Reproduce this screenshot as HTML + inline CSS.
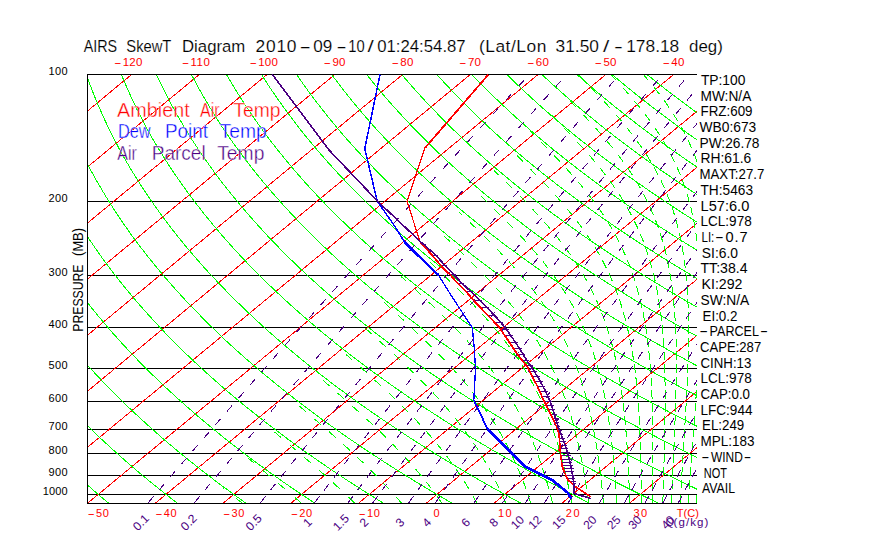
<!DOCTYPE html>
<html lang="en"><head><meta charset="utf-8"><title>AIRS SkewT Diagram</title>
<style>html,body{margin:0;padding:0;background:#fff}svg{display:block}</style></head>
<body>
<svg width="870" height="560" viewBox="0 0 870 560" font-family="&quot;Liberation Sans&quot;, sans-serif">
<rect width="870" height="560" fill="#fff"/>
<g fill="none" shape-rendering="crispEdges" stroke-width="1">
<path stroke="#000" stroke-width="1" d="M87.5 201.5H697M87.5 275.5H697M87.5 327.5H697M87.5 368.5H697M87.5 401.5H697M87.5 429.5H697M87.5 453.5H697M87.5 475.5H697M87.5 494.5H697"/>
<path stroke="#ff0000" d="M87.5 111L131.1 74.9M87.5 167L198.8 74.9M87.5 223.1L266.6 74.9M87.5 279.1L334.3 74.9M87.5 335.2L402.1 74.9M87.5 391.2L469.8 74.9M87.5 447.3L537.6 74.9M87.5 503.3L605.3 74.9M155.2 503.3L673.1 74.9M223 503.3L697 111.2M290.8 503.3L697 167.2M358.5 503.3L697 223.3M426.2 503.3L697 279.3M494 503.3L697 335.4M561.8 503.3L697 391.4M629.5 503.3L697 447.5"/>
<path stroke="#00ff00" d="M108.7 503.3L96.1 492.6L87.5 485M177.4 503.3L163.7 492.6L150.4 481.9L137.5 471.2L125.1 460.5L113 449.8L101.4 439.1L90.2 428.3L87.5 425.6M246.1 503.3L231.2 492.6L216.8 481.9L202.8 471.2L189.3 460.5L176.2 449.8L163.5 439.1L151.3 428.3L139.5 417.6L128.1 406.9L117.1 396.2L106.5 385.5L96.3 374.8L87.5 365.2M314.9 503.3L298.8 492.6L283.2 481.9L268.1 471.2L253.5 460.5L239.4 449.8L225.6 439.1L212.4 428.3L199.5 417.6L187.1 406.9L175.2 396.2L163.6 385.5L152.5 374.8L141.7 364.1L131.3 353.4L121.4 342.7L111.8 332L102.6 321.2L93.7 310.5L87.5 302.7M383.6 503.3L366.4 492.6L349.7 481.9L333.5 471.2L317.8 460.5L302.5 449.8L287.8 439.1L273.5 428.3L259.6 417.6L246.2 406.9L233.2 396.2L220.7 385.5L208.6 374.8L196.9 364.1L185.6 353.4L174.8 342.7L164.3 332L154.2 321.2L144.5 310.5L135.2 299.8L126.2 289.1L117.6 278.4L109.4 267.7L101.5 257L94 246.3L87.5 236.6M452.3 503.3L433.9 492.6L416.1 481.9L398.8 471.2L382 460.5L365.7 449.8L349.9 439.1L334.5 428.3L319.7 417.6L305.3 406.9L291.3 396.2L277.8 385.5L264.8 374.8L252.1 364.1L239.9 353.4L228.1 342.7L216.8 332L205.8 321.2L195.3 310.5L185.1 299.8L175.3 289.1L165.9 278.4L156.9 267.7L148.2 257L139.9 246.3L131.9 235.6L124.3 224.8L117.1 214.1L110.1 203.4L103.6 192.7L97.3 182L91.3 171.3L87.5 164M521 503.3L501.5 492.6L482.5 481.9L464.1 471.2L446.2 460.5L428.8 449.8L412 439.1L395.6 428.3L379.7 417.6L364.3 406.9L349.4 396.2L334.9 385.5L320.9 374.8L307.3 364.1L294.2 353.4L281.5 342.7L269.3 332L257.4 321.2L246 310.5L235 299.8L224.4 289.1L214.2 278.4L204.3 267.7L194.9 257L185.8 246.3L177.1 235.6L168.7 224.8L160.7 214.1L153.1 203.4L145.7 192.7L138.8 182L132.1 171.3L125.8 160.6L119.8 149.9L114.2 139.2L108.8 128.5L103.7 117.7L99 107L94.5 96.3L90.3 85.6L87.5 77.8M589.7 503.3L569 492.6L549 481.9L529.4 471.2L510.5 460.5L492 449.8L474.1 439.1L456.7 428.3L439.8 417.6L423.4 406.9L407.4 396.2L392 385.5L377.1 374.8L362.6 364.1L348.5 353.4L334.9 342.7L321.8 332L309.1 321.2L296.8 310.5L284.9 299.8L273.5 289.1L262.4 278.4L251.8 267.7L241.5 257L231.7 246.3L222.2 235.6L213.1 224.8L204.3 214.1L196 203.4L187.9 192.7L180.3 182L172.9 171.3L165.9 160.6L159.3 149.9L152.9 139.2L146.9 128.5L141.2 117.7L135.8 107L130.8 96.3L126 85.6L121.5 74.9M658.4 503.3L636.6 492.6L615.4 481.9L594.8 471.2L574.7 460.5L555.2 449.8L536.2 439.1L517.7 428.3L499.8 417.6L482.4 406.9L465.5 396.2L449.1 385.5L433.2 374.8L417.8 364.1L402.8 353.4L388.3 342.7L374.3 332L360.7 321.2L347.5 310.5L334.8 299.8L322.6 289.1L310.7 278.4L299.2 267.7L288.2 257L277.6 246.3L267.3 235.6L257.5 224.8L248 214.1L238.9 203.4L230.1 192.7L221.7 182L213.7 171.3L206.1 160.6L198.7 149.9L191.7 139.2L185.1 128.5L178.7 117.7L172.7 107L167 96.3L161.7 85.6L156.6 74.9M697 489.2L681.8 481.9L660.1 471.2L638.9 460.5L618.3 449.8L598.3 439.1L578.8 428.3L559.9 417.6L541.5 406.9L523.6 396.2L506.2 385.5L489.4 374.8L473 364.1L457.1 353.4L441.7 342.7L426.8 332L412.3 321.2L398.3 310.5L384.8 299.8L371.6 289.1L359 278.4L346.7 267.7L334.9 257L323.5 246.3L312.4 235.6L301.8 224.8L291.6 214.1L281.8 203.4L272.3 192.7L263.2 182L254.5 171.3L246.2 160.6L238.2 149.9L230.5 139.2L223.2 128.5L216.2 117.7L209.6 107L203.3 96.3L197.3 85.6L191.6 74.9M697 457.4L681.5 449.8L660.4 439.1L639.9 428.3L619.9 417.6L600.5 406.9L581.7 396.2L563.3 385.5L545.5 374.8L528.2 364.1L511.4 353.4L495.1 342.7L479.3 332L463.9 321.2L449.1 310.5L434.7 299.8L420.7 289.1L407.2 278.4L394.2 267.7L381.5 257L369.3 246.3L357.6 235.6L346.2 224.8L335.2 214.1L324.7 203.4L314.5 192.7L304.7 182L295.3 171.3L286.3 160.6L277.6 149.9L269.3 139.2L261.4 128.5L253.8 117.7L246.5 107L239.6 96.3L233 85.6L226.7 74.9M697 426.3L680 417.6L659.6 406.9L639.7 396.2L620.4 385.5L601.7 374.8L583.4 364.1L565.7 353.4L548.5 342.7L531.8 332L515.6 321.2L499.8 310.5L484.6 299.8L469.8 289.1L455.5 278.4L441.6 267.7L428.2 257L415.2 246.3L402.7 235.6L390.6 224.8L378.9 214.1L367.6 203.4L356.7 192.7L346.2 182L336.1 171.3L326.4 160.6L317.1 149.9L308.1 139.2L299.5 128.5L291.3 117.7L283.4 107L275.8 96.3L268.6 85.6L261.8 74.9M697 395.8L677.5 385.5L657.8 374.8L638.6 364.1L620 353.4L601.9 342.7L584.3 332L567.2 321.2L550.6 310.5L534.5 299.8L518.9 289.1L503.8 278.4L489.1 267.7L474.9 257L461.1 246.3L447.8 235.6L434.9 224.8L422.5 214.1L410.5 203.4L398.9 192.7L387.7 182L376.9 171.3L366.5 160.6L356.5 149.9L346.9 139.2L337.6 128.5L328.8 117.7L320.3 107L312.1 96.3L304.3 85.6L296.8 74.9M697 365.8L693.8 364.1L674.3 353.4L655.3 342.7L636.8 332L618.8 321.2L601.4 310.5L584.4 299.8L568 289.1L552 278.4L536.5 267.7L521.6 257L507 246.3L492.9 235.6L479.3 224.8L466.1 214.1L453.4 203.4L441.1 192.7L429.2 182L417.7 171.3L406.6 160.6L396 149.9L385.7 139.2L375.8 128.5L366.3 117.7L357.1 107L348.4 96.3L340 85.6L331.9 74.9M697 336.2L689.3 332L670.4 321.2L652.1 310.5L634.3 299.8L617.1 289.1L600.3 278.4L584 267.7L568.2 257L552.9 246.3L538.1 235.6L523.7 224.8L509.8 214.1L496.3 203.4L483.3 192.7L470.7 182L458.5 171.3L446.7 160.6L435.4 149.9L424.5 139.2L413.9 128.5L403.8 117.7L394 107L384.6 96.3L375.6 85.6L367 74.9M697 307.1L684.2 299.8L666.1 289.1L648.6 278.4L631.5 267.7L614.9 257L598.8 246.3L583.2 235.6L568.1 224.8L553.4 214.1L539.2 203.4L525.5 192.7L512.2 182L499.3 171.3L486.9 160.6L474.9 149.9L463.3 139.2L452.1 128.5L441.3 117.7L430.9 107L420.9 96.3L411.3 85.6L402 74.9M697 278.5L696.8 278.4L678.9 267.7L661.6 257L644.7 246.3L628.3 235.6L612.4 224.8L597 214.1L582.1 203.4L567.7 192.7L553.7 182L540.1 171.3L527 160.6L514.3 149.9L502 139.2L490.2 128.5L478.8 117.7L467.8 107L457.2 96.3L447 85.6L437.1 74.9M697 250.2L690.6 246.3L673.5 235.6L656.8 224.8L640.7 214.1L625 203.4L609.8 192.7L595.1 182L580.9 171.3L567.1 160.6L553.7 149.9L540.8 139.2L528.4 128.5L516.3 117.7L504.7 107L493.4 96.3L482.6 85.6L472.2 74.9M697 222.2L684.3 214.1L667.9 203.4L652 192.7L636.6 182L621.7 171.3L607.2 160.6L593.2 149.9L579.6 139.2L566.5 128.5L553.8 117.7L541.5 107L529.7 96.3L518.3 85.6L507.3 74.9M697 194.5L694.2 192.7L678.1 182L662.5 171.3L647.3 160.6L632.6 149.9L618.4 139.2L604.6 128.5L591.3 117.7L578.4 107L566 96.3L553.9 85.6L542.3 74.9M697 167L687.4 160.6L672.1 149.9L657.2 139.2L642.8 128.5L628.8 117.7L615.3 107L602.2 96.3L589.6 85.6L577.4 74.9M697 139.9L696 139.2L680.9 128.5L666.3 117.7L652.2 107L638.5 96.3L625.3 85.6L612.5 74.9M697 112.8L689.1 107L674.8 96.3L660.9 85.6L647.5 74.9"/>
<path stroke="#00ff00" d="M242.3 503.3L235.6 497.9M224.4 488.6L223.1 487.6M301.6 503.3L295.1 497.7M284.5 488.6L277.9 483.1M269.4 475.9L262.8 470.4M254.1 463.1L247.5 457.6M354.9 503.3L348.7 497.3M339.5 488.6L333.2 482.8M325.5 475.9L319.1 470.2M311 463.1L304.5 457.5M296.1 450.3L289.6 444.8M281 437.5L274.5 431.9M401.7 503.3L396 496.8M388.6 488.6L382.7 482.4M376.5 475.9L370.4 469.8M363.5 463.1L357.3 457.2M349.9 450.3L343.5 444.5M335.6 437.5L329.2 431.8M321 424.7L314.5 419M306.1 411.8L299.6 406.2M442 503.3L437 496.3M431.3 488.6L426.1 481.8M421.3 475.9L415.7 469.3M410.3 463.1L404.6 456.7M398.5 450.3L392.6 444.2M385.9 437.5L379.8 431.5M372.6 424.7L366.3 418.8M358.6 411.8L352.2 406M344.2 398.9L337.7 393.2M329.5 385.9L323 380.3M477 503.3L472.9 495.8M468.7 488.6L464.2 481.3M460.7 475.9L455.8 468.8M451.8 463.1L446.7 456.2M442.2 450.3L436.8 443.6M431.6 437.5L425.9 431M420.2 424.7L414.3 418.4M407.9 411.8L401.8 405.7M394.8 398.9L388.6 392.9M381.1 385.9L374.7 380.1M366.9 373L360.5 367.2M352.3 360L345.9 354.3M505.8 503.3L502.4 495.4M499.3 488.6L495.5 480.9M493 475.9L488.9 468.3M486 463.1L481.6 455.7M478.3 450.3L473.6 443.1M469.7 437.5L464.7 430.5M460.3 424.7L455 417.9M449.9 411.8L444.3 405.2M438.7 398.9L432.9 392.5M426.6 385.9L420.5 379.8M413.7 373L407.5 367M400.1 360L393.8 354.1M386 347L379.6 341.2M371.6 333.9L365.2 328.2M530.9 503.3L528.2 495.2M525.9 488.6L522.9 480.6M521 475.9L517.7 467.9M515.6 463.1L512 455.3M509.6 450.3L505.6 442.7M502.8 437.5L498.6 430M495.3 424.7L490.7 417.4M487 411.8L482.1 404.7M477.8 398.9L472.5 392.1M467.6 385.9L462.1 379.3M456.5 373L450.7 366.6M444.5 360L438.5 353.8M431.7 347L425.6 340.9M418.2 333.9L412 328M404.2 320.8L397.9 315M389.9 307.7L383.6 301.9M552.6 503.3L550.5 495M548.7 488.6L546.4 480.3M545 475.9L542.4 467.7M540.9 463.1L538 455M536.2 450.3L533 442.3M531 437.5L527.5 429.7M525.2 424.7L521.3 417M518.6 411.8L514.4 404.3M511.2 398.9L506.7 391.6M503 385.9L498.1 378.9M493.9 373L488.7 366.1M483.8 360L478.3 353.4M472.7 347L467 340.6M460.8 333.9L454.8 327.7M448 320.8L441.9 314.8M434.6 307.7L428.4 301.8M420.7 294.6L414.4 288.7M406.5 281.4L400.9 276.3M571.8 503.3L570.2 494.9M568.9 488.6L567.1 480.2M566.1 475.9L564.1 467.5M563 463.1L560.8 454.8M559.5 450.3L557 442.1M555.6 437.5L552.8 429.4M551.1 424.7L548 416.6M546.1 411.8L542.7 403.9M540.4 398.9L536.6 391.1M533.9 385.9L529.8 378.4M526.7 373L522.2 365.6M518.5 360L513.6 352.9M509.4 347L504.2 340.1M499.3 333.9L493.8 327.3M488.3 320.8L482.5 314.4M476.3 307.7L470.4 301.5M463.5 294.6L457.4 288.5M450.1 281.4L443.9 275.5M436.3 268.2L430 262.3M588.7 503.3L587.5 494.8M586.6 488.6L585.2 480.1M584.5 475.9L583 467.4M582.2 463.1L580.6 454.7M579.6 450.3L577.8 441.9M576.7 437.5L574.6 429.2M573.4 424.7L571 416.4M569.6 411.8L566.9 403.6M565.2 398.9L562.2 390.8M560.3 385.9L556.9 378M554.6 373L550.9 365.2M548.2 360L544.1 352.4M541 347L536.5 339.6M532.8 333.9L527.9 326.8M523.6 320.8L518.4 314M513.4 307.7L507.9 301.1M502.3 294.6L496.5 288.2M490.2 281.4L484.3 275.2M477.4 268.2L471.3 262.1M464 255L457.8 249M450.1 241.7L443.9 235.8M603.6 503.3L602.7 494.8M602.1 488.6L601.2 480.1M600.7 475.9L599.6 467.3M599 463.1L597.8 454.6M597.2 450.3L595.8 441.8M595.1 437.5L593.5 429.1M592.6 424.7L590.9 416.2M589.8 411.8L587.8 403.4M586.6 398.9L584.3 390.6M582.9 385.9L580.3 377.8M578.6 373L575.6 364.9M573.7 360L570.3 352.1M568 347L564.3 339.2M561.5 333.9L557.4 326.4M554.2 320.8L549.6 313.5M545.8 307.7L540.9 300.6M536.5 294.6L531.3 287.7M526.2 281.4L520.6 274.8M514.8 268.2L509.1 261.8M502.6 255L496.7 248.8M489.7 241.7L483.6 235.7M476.2 228.4L470 222.5M462.4 215.1L459.1 212M616.9 503.3L616.4 494.7M615.9 488.6L615.3 480M615 475.9L614.3 467.3M613.9 463.1L613.1 454.6M612.6 450.3L611.7 441.8M611.2 437.5L610.1 429M609.5 424.7L608.2 416.2M607.5 411.8L606 403.3M605.2 398.9L603.4 390.4M602.4 385.9L600.4 377.6M599.2 373L596.9 364.7M595.5 360L592.9 351.8M591.2 347L588.2 338.9M586.2 333.9L582.8 326M580.5 320.8L576.7 313.1M573.8 307.7L569.6 300.2M566.3 294.6L561.7 287.3M557.7 281.4L552.7 274.4M548.1 268.2L542.8 261.4M537.5 255L531.9 248.4M525.9 241.7L520.1 235.4M513.5 228.4L507.5 222.3M500.4 215.1L494.3 209.1M486.8 201.8L480.7 195.8M629.8 503.3L629.5 494.7M629.2 488.6L628.9 480M628.7 475.9L628.3 467.3M628.1 463.1L627.6 454.5M627.4 450.3L626.8 441.7M626.5 437.5L625.8 428.9M625.4 424.7L624.6 416.1M624.1 411.8L623.1 403.2M622.6 398.9L621.4 390.4M620.7 385.9L619.3 377.5M618.5 373L616.8 364.5M615.8 360L613.9 351.6M612.7 347L610.4 338.7M609 333.9L606.4 325.7M604.7 320.8L601.7 312.8M599.7 307.7L596.3 299.8M593.8 294.6L590 286.9M587.1 281.4L582.8 273.9M579.3 268.2L574.7 261M570.5 255L565.5 248M560.7 241.7L555.4 235M549.9 228.4L544.2 221.9M538.1 215.1L532.2 208.8M525.5 201.8L519.5 195.6M512.3 188.4L506.2 182.4M498.7 175L494.2 170.6M641.5 503.3L641.4 494.7M641.3 488.6L641.2 480M641.1 475.9L641 467.3M640.9 463.1L640.7 454.5M640.6 450.3L640.3 441.7M640.1 437.5L639.8 428.9M639.6 424.7L639.1 416.1M638.9 411.8L638.3 403.2M638 398.9L637.2 390.3M636.8 385.9L635.9 377.4M635.4 373L634.2 364.4M633.6 360L632.2 351.5M631.4 347L629.8 338.5M628.8 333.9L626.9 325.5M625.7 320.8L623.4 312.5M622 307.7L619.4 299.5M617.6 294.6L614.6 286.5M612.4 281.4L609 273.5M606.4 268.2L602.5 260.5M599.4 255L595.1 247.6M591.4 241.7L586.7 234.6M582.4 228.4L577.2 221.5M572.2 215.1L566.8 208.5M561.1 201.8L555.4 195.3M549.1 188.4L543.2 182.1M536.3 175L530.2 168.9M523 161.6L516.9 155.5M652.4 503.3L652.5 494.7M652.6 488.6L652.7 480M652.7 475.9L652.8 467.3M652.8 463.1L652.8 454.5M652.9 450.3L652.8 441.7M652.8 437.5L652.8 428.9M652.7 424.7L652.6 416.1M652.5 411.8L652.2 403.2M652.1 398.9L651.7 390.3M651.5 385.9L651 377.4M650.8 373L650.1 364.4M649.7 360L648.9 351.4M648.4 347L647.3 338.4M646.7 333.9L645.4 325.4M644.6 320.8L643 312.4M642 307.7L640.1 299.3M638.8 294.6L636.5 286.3M635.1 281.4L632.4 273.2M630.5 268.2L627.4 260.2M625.2 255L621.6 247.2M619 241.7L615 234.1M611.7 228.4L607.3 221.1M603.4 215.1L598.6 208M594 201.8L588.8 194.9M583.6 188.4L578.1 181.8M572.1 175L566.4 168.6M559.9 161.6L553.9 155.3M546.9 148.1L540.9 142M533.6 134.6L529.5 130.6M662.8 503.3L663.1 494.7M663.2 488.6L663.5 480M663.6 475.9L663.9 467.3M664 463.1L664.2 454.5M664.3 450.3L664.5 441.7M664.6 437.5L664.8 428.9M664.9 424.7L665 416.1M665.1 411.8L665.1 403.2M665.1 398.9L665.1 390.3M665.1 385.9L664.9 377.3M664.8 373L664.6 364.4M664.4 360L664 351.4M663.8 347L663.2 338.4M662.8 333.9L662 325.3M661.6 320.8L660.5 312.3M659.9 307.7L658.6 299.2M657.8 294.6L656.2 286.1M655.2 281.4L653.3 273M652 268.2L649.7 259.9M648.1 255L645.4 246.8M643.5 241.7L640.2 233.7M637.9 228.4L634.2 220.7M631.4 215.1L627.3 207.6M623.9 201.8L619.3 194.5M615.2 188.4L610.3 181.4M605.5 175L600.2 168.2M594.7 161.6L589.1 155M582.9 148.1L577.1 141.8M570.4 134.6L564.5 128.4M557.4 121.1L551.3 115M671.5 503.3L671.8 494.7M672.1 488.6L672.5 480M672.6 475.9L673 467.3M673.2 463.1L673.6 454.5M673.8 450.3L674.2 441.7M674.4 437.5L674.7 428.9M674.9 424.7L675.2 416.1M675.4 411.8L675.7 403.2M675.8 398.9L676 390.3M676.1 385.9L676.2 377.3M676.3 373L676.3 364.4M676.3 360L676.2 351.4M676.2 347L676 338.4M675.8 333.9L675.4 325.3M675.2 320.8L674.6 312.2M674.2 307.7L673.4 299.1M672.9 294.6L671.9 286M671.2 281.4L669.8 272.9M669 268.2L667.3 259.8M666.2 255L664.1 246.6M662.7 241.7L660.2 233.5M658.5 228.4L655.6 220.4M653.5 215.1L650.1 207.2M647.5 201.8L643.6 194.1M640.5 188.4L636.1 181M632.3 175L627.6 167.9M623.1 161.6L617.9 154.7M612.8 148.1L607.3 141.5M601.4 134.6L595.7 128.2M589.2 121.1L583.4 114.8M576.4 107.6L570.4 101.4M563.2 94L562.7 93.5M680.2 503.3L680.7 494.7M681 488.6L681.5 480M681.8 475.9L682.3 467.3M682.5 463.1L683.1 454.5M683.3 450.3L683.9 441.7M684.1 437.5L684.7 428.9M684.9 424.7L685.4 416.1M685.7 411.8L686.2 403.2M686.4 398.9L686.9 390.3M687.1 385.9L687.5 377.3M687.6 373L688 364.4M688.1 360L688.3 351.4M688.4 347L688.5 338.4M688.6 333.9L688.5 325.3M688.5 320.8L688.3 312.2M688.2 307.7L687.8 299.1M687.6 294.6L687 286M686.7 281.4L685.8 272.8M685.3 268.2L684.2 259.7M683.5 255L682.1 246.5M681.2 241.7L679.4 233.3M678.2 228.4L676 220.1M674.5 215.1L671.9 206.9M670 201.8L666.9 193.8M664.6 188.4L661 180.6M658.2 175L654.1 167.4M650.7 161.6L646.2 154.3M642.1 148.1L637.1 141.1M632.3 134.6L627 127.9M621.5 121.1L615.9 114.6M609.7 107.6L604 101.2M597.2 94L591.3 87.8M584.3 80.4L578.9 74.9M688.2 503.3L688.8 494.7M689.2 488.6L689.8 480M690.1 475.9L690.7 467.3M691 463.1L691.6 454.5M692 450.3L692.6 441.8M693 437.5L693.6 428.9M694 424.7L694.6 416.1M695 411.8L695.6 403.2M695.9 398.9L696.6 390.3M696.9 385.9L697 384M697 241.3L695.9 233.2M695.1 228.4L693.6 220M692.6 215.1L690.6 206.7M689.3 201.8L686.9 193.5M685.3 188.4L682.4 180.3M680.4 175L677 167.1M674.5 161.6L670.6 153.9M667.5 148.1L663.2 140.7M659.4 134.6L654.6 127.5M650.1 121.1L645 114.2M639.8 107.6L634.3 100.9M628.4 94L622.7 87.5M616.2 80.4L611.1 74.9M696.3 503.3L696.9 494.7M697 161.6L693.9 153.5M691.6 148.1L688.1 140.3M685.3 134.6L681.2 127.1M677.8 121.1L673.2 113.8M669.1 107.6L664.2 100.5M659.3 94L654 87.2M648.4 80.4L643.7 74.9"/>
<path stroke="#4b0082" d="M147.7 503.3L153.6 496.5M158.9 490.3L163.9 484.4M170 477.3L175.1 471.3M181.3 464.2L186.4 458.3M192.6 451.1L197.7 445.2M204 438L209.1 432.1M215.4 424.8L220.5 418.9M226.9 411.6L232 405.7M238.4 398.4L243.5 392.5M250 385.1L255.1 379.3M261.6 371.9L266.7 366M273.3 358.6L278.4 352.7M285 345.2L290.2 339.4M296.8 331.9L302 326M308.7 318.5L313.9 312.6M320.6 305.1L325.8 299.2M332.6 291.6L337.7 285.8M344.6 278.1L349.8 272.3M356.6 264.6L361.8 258.8M368.8 251.1L374 245.3M380.9 237.5L386.2 231.7M393.2 223.9L398.4 218.1M405.5 210.3L410.7 204.5M417.8 196.7L423 190.9M430.2 183L435.4 177.2M442.6 169.3L447.9 163.5M455.1 155.5L460.4 149.8M467.7 141.8L472.9 136M480.3 128L485.5 122.2M492.9 114.1L498.2 108.4M505.7 100.3L510.9 94.5M518.4 86.4L523.7 80.6M193.9 503.3L199.7 496.4M204.7 490.3L209.7 484.3M215.6 477.3L220.6 471.3M226.6 464.2L231.6 458.2M237.6 451.1L242.6 445.1M248.6 438L253.7 432M259.7 424.8L264.8 418.8M270.9 411.6L276 405.7M282.1 398.4L287.2 392.5M293.4 385.1L298.5 379.2M304.8 371.9L309.8 365.9M316.2 358.6L321.2 352.6M327.6 345.2L332.7 339.3M339.1 331.9L344.2 326M350.7 318.5L355.8 312.6M362.3 305.1L367.4 299.2M374 291.6L379.1 285.7M385.8 278.1L390.9 272.3M397.6 264.6L402.7 258.8M409.4 251.1L414.5 245.2M421.3 237.5L426.5 231.7M433.3 223.9L438.4 218.1M445.3 210.3L450.5 204.5M457.4 196.7L462.5 190.8M469.5 183L474.7 177.1M481.7 169.3L486.9 163.4M493.9 155.5L499.1 149.7M506.2 141.8L511.4 135.9M518.6 128L523.8 122.1M531 114.1L536.2 108.3M543.4 100.3L548.7 94.5M556 86.4L561.2 80.6M260 503.3L265.6 496.3M270.3 490.3L275.2 484.2M280.8 477.3L285.6 471.2M291.2 464.2L296.1 458.1M301.8 451.1L306.7 445M312.4 438L317.3 431.9M323 424.8L328 418.7M333.8 411.6L338.7 405.6M344.6 398.4L349.5 392.4M355.4 385.1L360.4 379.1M366.3 371.9L371.3 365.9M377.3 358.6L382.3 352.6M388.3 345.2L393.3 339.2M399.4 331.9L404.4 325.9M410.6 318.5L415.6 312.5M421.8 305.1L426.8 299.1M433 291.6L438.1 285.6M444.4 278.1L449.4 272.2M455.8 264.6L460.8 258.7M467.2 251.1L472.3 245.1M478.7 237.5L483.8 231.6M490.3 223.9L495.4 218M501.9 210.3L507 204.4M513.6 196.7L518.7 190.7M525.4 183L530.4 177.1M537.2 169.3L542.3 163.4M549 155.5L554.1 149.6M560.9 141.8L566 135.9M572.9 128L578 122.1M584.9 114.1L590.1 108.2M597 100.3L602.2 94.4M609.2 86.4L614.3 80.5M314.1 503.3L319.6 496.2M324.1 490.3L328.9 484.1M334.1 477.3L338.9 471.1M344.2 464.2L349 458M354.4 451.1L359.2 444.9M364.6 438L369.4 431.8M374.9 424.8L379.7 418.7M385.2 411.6L390.1 405.5M395.6 398.4L400.5 392.3M406.1 385.1L411 379M416.7 371.9L421.5 365.8M427.3 358.6L432.1 352.5M437.9 345.2L442.8 339.1M448.7 331.9L453.6 325.8M459.5 318.5L464.4 312.4M470.3 305.1L475.2 299M481.2 291.6L486.2 285.6M492.2 278.1L497.2 272.1M503.3 264.6L508.2 258.6M514.4 251.1L519.3 245.1M525.6 237.5L530.5 231.5M536.8 223.9L541.8 217.9M548.1 210.3L553.1 204.3M559.4 196.7L564.4 190.7M570.9 183L575.9 177M582.3 169.3L587.4 163.3M593.9 155.5L598.9 149.6M605.5 141.8L610.5 135.8M617.1 128L622.2 122M628.9 114.1L633.9 108.2M640.6 100.3L645.7 94.3M652.5 86.4L657.6 80.5M347.7 503.3L353.1 496.1M357.4 490.3L362.1 484.1M367.2 477.3L371.8 471M377 464.2L381.7 458M386.9 451.1L391.6 444.9M396.9 438L401.6 431.8M406.9 424.8L411.7 418.6M417 411.6L421.8 405.4M427.2 398.4L432 392.2M437.5 385.1L442.2 379M447.8 371.9L452.6 365.7M458.1 358.6L462.9 352.4M468.6 345.2L473.4 339.1M479.1 331.9L483.9 325.7M489.6 318.5L494.5 312.4M500.3 305.1L505.1 299M511 291.6L515.8 285.5M521.7 278.1L526.6 272M532.6 264.6L537.5 258.5M543.5 251.1L548.4 245M554.4 237.5L559.3 231.5M565.4 223.9L570.4 217.9M576.5 210.3L581.5 204.3M587.7 196.7L592.6 190.6M598.9 183L603.8 176.9M610.2 169.3L615.1 163.2M621.5 155.5L626.5 149.5M632.9 141.8L637.9 135.7M644.4 128L649.4 122M655.9 114.1L660.9 108.1M667.5 100.3L672.5 94.3M679.1 86.4L684.1 80.4M372.4 503.3L377.7 496.1M381.9 490.3L386.5 484M391.5 477.3L396.1 471M401.1 464.2L405.8 457.9M410.8 451.1L415.5 444.8M420.6 438L425.3 431.7M430.5 424.8L435.2 418.6M440.4 411.6L445.1 405.4M450.4 398.4L455.1 392.2M460.5 385.1L465.2 378.9M470.6 371.9L475.4 365.7M480.8 358.6L485.6 352.4M491.1 345.2L495.8 339.1M501.4 331.9L506.2 325.7M511.8 318.5L516.6 312.3M522.3 305.1L527.1 298.9M532.8 291.6L537.6 285.5M543.4 278.1L548.2 272M554.1 264.6L558.9 258.5M564.8 251.1L569.7 245M575.6 237.5L580.5 231.4M586.5 223.9L591.4 217.8M597.4 210.3L602.3 204.2M608.4 196.7L613.3 190.6M619.5 183L624.4 176.9M630.6 169.3L635.5 163.2M641.8 155.5L646.7 149.5M653 141.8L658 135.7M664.3 128L669.3 121.9M675.7 114.1L680.7 108.1M687.1 100.3L692.1 94.3M408.4 503.3L413.6 496M417.7 490.3L422.2 484M427 477.3L431.5 470.9M436.3 464.2L440.9 457.9M445.8 451.1L450.4 444.8M455.3 438L459.9 431.7M464.9 424.8L469.5 418.5M474.6 411.6L479.2 405.3M484.3 398.4L488.9 392.1M494.1 385.1L498.7 378.9M504 371.9L508.6 365.6M513.9 358.6L518.6 352.3M523.9 345.2L528.6 339M534 331.9L538.7 325.7M544.2 318.5L548.9 312.3M554.4 305.1L559.1 298.9M564.7 291.6L569.4 285.4M575 278.1L579.8 272M585.4 264.6L590.2 258.5M595.9 251.1L600.7 244.9M606.5 237.5L611.3 231.4M617.1 223.9L621.9 217.8M627.8 210.3L632.6 204.2M638.6 196.7L643.4 190.5M649.4 183L654.3 176.9M660.3 169.3L665.2 163.2M671.3 155.5L676.1 149.4M682.3 141.8L687.2 135.7M693.4 128L697 123.5M435 503.3L440.1 495.9M444 490.3L448.5 483.9M453.1 477.3L457.6 470.9M462.3 464.2L466.8 457.8M471.5 451.1L476 444.7M480.8 438L485.4 431.6M490.2 424.8L494.8 418.5M499.7 411.6L504.2 405.3M509.2 398.4L513.8 392.1M518.8 385.1L523.4 378.8M528.5 371.9L533.1 365.6M538.2 358.6L542.9 352.3M548.1 345.2L552.7 339M558 331.9L562.6 325.6M567.9 318.5L572.6 312.2M578 305.1L582.6 298.8M588.1 291.6L592.8 285.4M598.2 278.1L602.9 271.9M608.5 264.6L613.2 258.4M618.8 251.1L623.5 244.9M629.2 237.5L633.9 231.3M639.6 223.9L644.4 217.8M650.1 210.3L654.9 204.1M660.7 196.7L665.5 190.5M671.4 183L676.2 176.8M682.1 169.3L686.9 163.1M692.9 155.5L697 150.3M473.8 503.3L478.8 495.8M482.5 490.3L486.9 483.8M491.3 477.3L495.7 470.8M500.2 464.2L504.6 457.7M509.1 451.1L513.5 444.7M518.1 438L522.5 431.5M527.2 424.8L531.7 418.4M536.4 411.6L540.8 405.2M545.6 398.4L550.1 392M554.9 385.1L559.4 378.8M564.3 371.9L568.8 365.5M573.8 358.6L578.3 352.2M583.3 345.2L587.9 338.9M592.9 331.9L597.5 325.5M602.6 318.5L607.2 312.2M612.4 305.1L617 298.8M622.2 291.6L626.8 285.3M632.1 278.1L636.7 271.9M642.1 264.6L646.7 258.4M652.1 251.1L656.8 244.8M662.2 237.5L666.9 231.3M672.4 223.9L677.1 217.7M682.7 210.3L687.4 204.1M693 196.7L697 191.4M502.4 503.3L507.3 495.8M510.9 490.3L515.2 483.8M519.4 477.3L523.7 470.7M528.1 464.2L532.4 457.7M536.8 451.1L541.1 444.6M545.5 438L549.9 431.5M554.4 424.8L558.8 418.3M563.3 411.6L567.7 405.2M572.4 398.4L576.8 392M581.4 385.1L585.9 378.7M590.6 371.9L595.1 365.5M599.9 358.6L604.3 352.2M609.2 345.2L613.7 338.8M618.6 331.9L623.1 325.5M628.1 318.5L632.6 312.1M637.6 305.1L642.1 298.7M647.2 291.6L651.8 285.3M656.9 278.1L661.5 271.8M666.7 264.6L671.3 258.3M676.6 251.1L681.2 244.8M686.5 237.5L691.1 231.2M696.5 223.9L697 223.2M525.2 503.3L530 495.7M533.5 490.3L537.7 483.7M541.8 477.3L546.1 470.7M550.3 464.2L554.5 457.6M558.8 451.1L563 444.6M567.4 438L571.7 431.4M576.1 424.8L580.4 418.3M584.8 411.6L589.1 405.1M593.6 398.4L598 391.9M602.6 385.1L606.9 378.7M611.6 371.9L615.9 365.4M620.6 358.6L625 352.1M629.8 345.2L634.2 338.8M639 331.9L643.5 325.5M648.3 318.5L652.8 312.1M657.7 305.1L662.2 298.7M667.2 291.6L671.7 285.2M676.7 278.1L681.2 271.8M686.3 264.6L690.8 258.3M696 251.1L697 249.7M544.2 503.3L549 495.7M552.3 490.3L556.5 483.7M560.5 477.3L564.7 470.7M568.8 464.2L573 457.6M577.1 451.1L581.4 444.5M585.6 438L589.8 431.4M594.1 424.8L598.4 418.3M602.7 411.6L607 405.1M611.4 398.4L615.7 391.9M620.2 385.1L624.5 378.7M629 371.9L633.3 365.4M637.9 358.6L642.3 352.1M646.9 345.2L651.3 338.8M656 331.9L660.4 325.4M665.2 318.5L669.6 312.1M674.4 305.1L678.9 298.6M683.8 291.6L688.2 285.2M693.2 278.1L697 272.6M567.9 503.3L572.6 495.6M575.8 490.3L579.9 483.7M583.8 477.3L587.9 470.6M591.9 464.2L596 457.6M600.1 451.1L604.2 444.5M608.3 438L612.5 431.4M616.6 424.8L620.8 418.2M625 411.6L629.2 405M633.5 398.4L637.8 391.8M642.1 385.1L646.4 378.6M650.8 371.9L655 365.3M659.5 358.6L663.8 352.1M668.3 345.2L672.7 338.7M677.2 331.9L681.6 325.4M686.2 318.5L690.6 312M695.3 305.1L697 302.5M599.3 503.3L603.8 495.6M606.9 490.3L610.9 483.6M614.6 477.3L618.6 470.6M622.4 464.2L626.4 457.5M630.3 451.1L634.4 444.4M638.3 438L642.4 431.3M646.4 424.8L650.5 418.2M654.5 411.6L658.6 405M662.8 398.4L666.9 391.8M671.1 385.1L675.2 378.6M679.5 371.9L683.7 365.3M688 358.6L692.2 352M696.6 345.2L697 344.6M624.2 503.3L628.6 495.5M631.6 490.3L635.5 483.5M639.1 477.3L643 470.5M646.7 464.2L650.6 457.5M654.3 451.1L658.3 444.4M662.1 438L666.1 431.3M670 424.8L674 418.1M677.9 411.6L681.9 404.9M685.9 398.4L690 391.7M694.1 385.1L697 380.4M644.8 503.3L649.2 495.4M652.1 490.3L655.9 483.5M659.4 477.3L663.2 470.5M666.8 464.2L670.6 457.4M674.3 451.1L678.2 444.3M681.9 438L685.8 431.2M689.5 424.8L693.5 418.1M662.6 503.3L666.8 495.4M669.6 490.3L673.4 483.5M676.8 477.3L680.5 470.4M684 464.2L687.8 457.4M691.3 451.1L695.2 444.3M678.1 503.3L682.3 495.4M685 490.3L688.6 483.4M692 477.3L695.7 470.4"/>
<path stroke="#000" stroke-width="1" d="M87 74.5H697M87.5 74V504M87 503.5H697"/>
<path stroke="#4b0082" d="M572.4 483.5H576M569.2 481.5H575.6M567 478.5H575.2M565.7 475.5H574.7M564.4 471.5H574.1M563.1 468.5H573.6M562.1 465.5H573M561.6 462.5H572.2M561.2 459.5H571.3M560.8 455.5H570.5M560.4 452.5H569.5M560.1 448.5H568.4M559.9 445.5H567.3M559.6 441.5H566.1M559.4 438.5H564.7M558.9 434.5H563.2M557.9 430.5H561.7M556.5 426.5H560.2M554.6 422.5H559M552.6 418.5H557.8M550.5 414.5H556.5M548.4 409.5H555.1M546.2 405.5H553.6M544 401.5H552.1M541.9 396.5H550.1M539.8 391.5H548M537.6 386.5H545.4M535.1 381.5H542.6M532.5 376.5H539.7M529.8 371.5H536.5M526.5 365.5H532.8M522.2 360.5H529M517.8 354.5H525.4M513.5 348.5H521.7M509.4 342.5H517.6M505.1 335.5H513.3M500.7 329.5H508.5M494.6 322.5H503M487.8 315.5H496.4M480.7 307.5H489.4M473.3 300.5H481.6M466.3 291.5H473.4M457.8 283.5H464.3M449.7 274.5H455.8M440.4 265.5H446.9M432.1 255.5H438M422.4 244.5H426.1"/>
</g>
<g fill="none" stroke-linejoin="round" stroke-linecap="butt" shape-rendering="crispEdges">
<path stroke="#ff0000" stroke-width="1.7" d="M590.5 496.6L575 486.3L567.7 479.7L563.5 470L562.1 466L560.5 453.5L559.5 441L559.3 435.7L557.1 427.7L543.5 400L537.1 385.7L528.2 368.2L515.7 351.8L499.6 327.7L473.3 300L466.9 292.5L458.1 283.8L450.7 275.4L442.5 267.5L431.9 255L420.2 242.3"/>
<path stroke="#ff0000" stroke-width="1.2" d="M420.2 242.3L407 201.2L425 148"/>
<path stroke="#ff0000" stroke-width="1.8" d="M425 148L488.4 74.5"/>
<path stroke="#0000ff" stroke-width="2.6" d="M571.4 499L567.8 492.7L552.2 480L524.6 466.2L488 429.4"/>
<path stroke="#0000ff" stroke-width="1.8" d="M488 429.4L486.4 426.6L473.8 400"/>
<path stroke="#0000ff" stroke-width="1.3" d="M473.8 400L474.6 385.7L475.5 368.2L474.3 348.2L472.3 327.7L454.1 300L452.9 298.2L438.6 275.4"/>
<path stroke="#0000ff" stroke-width="2.6" d="M438.6 275.4L404.6 242"/>
<path stroke="#0000ff" stroke-width="1.5" d="M404.6 242L393.9 225L377.2 201.2L364.8 148.6L380 74.5"/>
<path stroke="#4b0082" stroke-width="1.6" d="M590.8 498.5L574.2 493.5L574.1 487L573.3 479.7L570.9 466L567.7 453.5L563.7 441L558.3 427.5L553.8 412.5L550 401.2L545.6 391.2L538.8 378.8L532.5 368.5L528.1 362.5L521.2 351.2L513.1 338.8L505 327.5L498.8 320L486.9 307.5L479.4 300L471.9 292.5L462.5 283.8L454.5 275.4L446.9 267.5L435.6 255L421.2 242.4L377.6 201.2L329 150L272.4 74.5"/>
</g>
<g stroke="#fff" stroke-width="0.15">
<text y="52" font-size="17.4" fill="#000"><tspan x="83.7" textLength="33.4" lengthAdjust="spacingAndGlyphs">AIRS</tspan> <tspan x="126.3" textLength="44.8" lengthAdjust="spacingAndGlyphs">SkewT</tspan> <tspan x="182" textLength="63.3" lengthAdjust="spacingAndGlyphs">Diagram</tspan> <tspan x="255.6" textLength="40.9" lengthAdjust="spacing">2010</tspan><tspan x="299.2" textLength="11.9" lengthAdjust="spacingAndGlyphs">-</tspan><tspan x="313.2" textLength="19" lengthAdjust="spacingAndGlyphs">09</tspan><tspan x="336.2" textLength="10.6" lengthAdjust="spacingAndGlyphs">-</tspan><tspan x="348.2" textLength="16.4" lengthAdjust="spacingAndGlyphs">10</tspan><tspan x="367.4" textLength="6.3" lengthAdjust="spacingAndGlyphs">/</tspan><tspan x="377.2" textLength="88.5" lengthAdjust="spacingAndGlyphs">01:24:54.87</tspan> <tspan x="479" textLength="67.3" lengthAdjust="spacing">(Lat/Lon</tspan> <tspan x="555.6" textLength="43.3" lengthAdjust="spacingAndGlyphs">31.50</tspan><tspan x="603" textLength="6.3" lengthAdjust="spacingAndGlyphs">/</tspan><tspan x="614.1" textLength="8.9" lengthAdjust="spacingAndGlyphs">-</tspan><tspan x="626.2" textLength="53.1" lengthAdjust="spacingAndGlyphs">178.18</tspan> <tspan x="689" textLength="33.8" lengthAdjust="spacingAndGlyphs">deg)</tspan></text>
</g>
<text y="66.1" font-size="11.5" fill="#ff0000"><tspan x="114" textLength="7.6" lengthAdjust="spacingAndGlyphs">-</tspan><tspan x="122.8" textLength="19.5" lengthAdjust="spacing">120</tspan></text>
<text y="66.1" font-size="11.5" fill="#ff0000"><tspan x="181.7" textLength="7.6" lengthAdjust="spacingAndGlyphs">-</tspan><tspan x="190.5" textLength="19.5" lengthAdjust="spacing">110</tspan></text>
<text y="66.1" font-size="11.5" fill="#ff0000"><tspan x="249.5" textLength="7.6" lengthAdjust="spacingAndGlyphs">-</tspan><tspan x="258.3" textLength="19.5" lengthAdjust="spacing">100</tspan></text>
<text y="66.1" font-size="11.5" fill="#ff0000"><tspan x="323.6" textLength="7.6" lengthAdjust="spacingAndGlyphs">-</tspan><tspan x="332.4" textLength="13.1" lengthAdjust="spacing">90</tspan></text>
<text y="66.1" font-size="11.5" fill="#ff0000"><tspan x="391.4" textLength="7.6" lengthAdjust="spacingAndGlyphs">-</tspan><tspan x="400.2" textLength="13.1" lengthAdjust="spacing">80</tspan></text>
<text y="66.1" font-size="11.5" fill="#ff0000"><tspan x="459.1" textLength="7.6" lengthAdjust="spacingAndGlyphs">-</tspan><tspan x="467.9" textLength="13.1" lengthAdjust="spacing">70</tspan></text>
<text y="66.1" font-size="11.5" fill="#ff0000"><tspan x="526.9" textLength="7.6" lengthAdjust="spacingAndGlyphs">-</tspan><tspan x="535.7" textLength="13.1" lengthAdjust="spacing">60</tspan></text>
<text y="66.1" font-size="11.5" fill="#ff0000"><tspan x="594.6" textLength="7.6" lengthAdjust="spacingAndGlyphs">-</tspan><tspan x="603.4" textLength="13.1" lengthAdjust="spacing">50</tspan></text>
<text y="66.1" font-size="11.5" fill="#ff0000"><tspan x="662.4" textLength="7.6" lengthAdjust="spacingAndGlyphs">-</tspan><tspan x="671.2" textLength="13.1" lengthAdjust="spacing">40</tspan></text>
<text y="516.9" font-size="11" fill="#ff0000"><tspan x="87.5" textLength="7.4" lengthAdjust="spacingAndGlyphs">-</tspan><tspan x="95.9" textLength="12.9" lengthAdjust="spacing">50</tspan></text>
<text y="516.9" font-size="11" fill="#ff0000"><tspan x="155.3" textLength="7.4" lengthAdjust="spacingAndGlyphs">-</tspan><tspan x="163.7" textLength="12.9" lengthAdjust="spacing">40</tspan></text>
<text y="516.9" font-size="11" fill="#ff0000"><tspan x="223" textLength="7.4" lengthAdjust="spacingAndGlyphs">-</tspan><tspan x="231.4" textLength="12.9" lengthAdjust="spacing">30</tspan></text>
<text y="516.9" font-size="11" fill="#ff0000"><tspan x="290.8" textLength="7.4" lengthAdjust="spacingAndGlyphs">-</tspan><tspan x="299.2" textLength="12.9" lengthAdjust="spacing">20</tspan></text>
<text y="516.9" font-size="11" fill="#ff0000"><tspan x="358.5" textLength="7.4" lengthAdjust="spacingAndGlyphs">-</tspan><tspan x="366.9" textLength="12.9" lengthAdjust="spacing">10</tspan></text>
<text y="516.9" font-size="11" fill="#ff0000"><tspan x="433.6" textLength="7" lengthAdjust="spacing">0</tspan></text>
<text y="516.9" font-size="11" fill="#ff0000"><tspan x="498" textLength="13.7" lengthAdjust="spacing">10</tspan></text>
<text y="516.9" font-size="11" fill="#ff0000"><tspan x="565.8" textLength="13.7" lengthAdjust="spacing">20</tspan></text>
<text y="516.9" font-size="11" fill="#ff0000"><tspan x="633.5" textLength="13.7" lengthAdjust="spacing">30</tspan></text>
<text y="516.9" font-size="11" fill="#ff0000"><tspan x="676.7" textLength="22.1" lengthAdjust="spacing">T(C)</tspan></text>
<text y="74.9" font-size="11" fill="#000"><tspan x="48.6" textLength="18.9" lengthAdjust="spacing">100</tspan></text>
<text y="201.9" font-size="11" fill="#000"><tspan x="48.6" textLength="18.9" lengthAdjust="spacing">200</tspan></text>
<text y="275.9" font-size="11" fill="#000"><tspan x="48.6" textLength="18.9" lengthAdjust="spacing">300</tspan></text>
<text y="327.9" font-size="11" fill="#000"><tspan x="48.6" textLength="18.9" lengthAdjust="spacing">400</tspan></text>
<text y="368.9" font-size="11" fill="#000"><tspan x="48.6" textLength="18.9" lengthAdjust="spacing">500</tspan></text>
<text y="401.9" font-size="11" fill="#000"><tspan x="48.6" textLength="18.9" lengthAdjust="spacing">600</tspan></text>
<text y="429.9" font-size="11" fill="#000"><tspan x="48.6" textLength="18.9" lengthAdjust="spacing">700</tspan></text>
<text y="453.9" font-size="11" fill="#000"><tspan x="48.6" textLength="18.9" lengthAdjust="spacing">800</tspan></text>
<text y="475.9" font-size="11" fill="#000"><tspan x="48.6" textLength="18.9" lengthAdjust="spacing">900</tspan></text>
<text y="494.9" font-size="11" fill="#000"><tspan x="42.7" textLength="24.8" lengthAdjust="spacing">1000</tspan></text>
<text font-size="15" fill="#000" transform="translate(82.5 331.7) rotate(-90)"><tspan x="0" y="0" textLength="67.2" lengthAdjust="spacingAndGlyphs">PRESSURE</tspan> <tspan x="75.8" y="0" textLength="27.9" lengthAdjust="spacingAndGlyphs">(MB)</tspan></text>
<text font-size="12" fill="#4b0082" text-anchor="middle" textLength="17.3" lengthAdjust="spacingAndGlyphs" transform="translate(141 522.5) rotate(-45)" x="0" y="4">0.1</text>
<text font-size="12" fill="#4b0082" text-anchor="middle" textLength="17.3" lengthAdjust="spacingAndGlyphs" transform="translate(188.8 522.5) rotate(-45)" x="0" y="4">0.2</text>
<text font-size="12" fill="#4b0082" text-anchor="middle" textLength="17.3" lengthAdjust="spacingAndGlyphs" transform="translate(253.8 522.5) rotate(-45)" x="0" y="4">0.5</text>
<text font-size="12" fill="#4b0082" text-anchor="middle" textLength="6.7" lengthAdjust="spacingAndGlyphs" transform="translate(307.5 522.5) rotate(-45)" x="0" y="4">1</text>
<text font-size="12" fill="#4b0082" text-anchor="middle" textLength="17.3" lengthAdjust="spacingAndGlyphs" transform="translate(341 522.5) rotate(-45)" x="0" y="4">1.5</text>
<text font-size="12" fill="#4b0082" text-anchor="middle" textLength="6.7" lengthAdjust="spacingAndGlyphs" transform="translate(364 522.5) rotate(-45)" x="0" y="4">2</text>
<text font-size="12" fill="#4b0082" text-anchor="middle" textLength="6.7" lengthAdjust="spacingAndGlyphs" transform="translate(400 522.5) rotate(-45)" x="0" y="4">3</text>
<text font-size="12" fill="#4b0082" text-anchor="middle" textLength="6.7" lengthAdjust="spacingAndGlyphs" transform="translate(426.8 522.5) rotate(-45)" x="0" y="4">4</text>
<text font-size="12" fill="#4b0082" text-anchor="middle" textLength="6.7" lengthAdjust="spacingAndGlyphs" transform="translate(465.8 522.5) rotate(-45)" x="0" y="4">6</text>
<text font-size="12" fill="#4b0082" text-anchor="middle" textLength="6.7" lengthAdjust="spacingAndGlyphs" transform="translate(493.8 522.5) rotate(-45)" x="0" y="4">8</text>
<text font-size="12" fill="#4b0082" text-anchor="middle" textLength="13.2" lengthAdjust="spacingAndGlyphs" transform="translate(517.5 522.5) rotate(-45)" x="0" y="4">10</text>
<text font-size="12" fill="#4b0082" text-anchor="middle" textLength="13.2" lengthAdjust="spacingAndGlyphs" transform="translate(535 522.5) rotate(-45)" x="0" y="4">12</text>
<text font-size="12" fill="#4b0082" text-anchor="middle" textLength="13.2" lengthAdjust="spacingAndGlyphs" transform="translate(558.8 522.5) rotate(-45)" x="0" y="4">15</text>
<text font-size="12" fill="#4b0082" text-anchor="middle" textLength="13.2" lengthAdjust="spacingAndGlyphs" transform="translate(590 522.5) rotate(-45)" x="0" y="4">20</text>
<text font-size="12" fill="#4b0082" text-anchor="middle" textLength="13.2" lengthAdjust="spacingAndGlyphs" transform="translate(613.8 522.5) rotate(-45)" x="0" y="4">25</text>
<text font-size="12" fill="#4b0082" text-anchor="middle" textLength="13.2" lengthAdjust="spacingAndGlyphs" transform="translate(635 522.5) rotate(-45)" x="0" y="4">30</text>
<text font-size="12" fill="#4b0082" text-anchor="middle" textLength="13.2" lengthAdjust="spacingAndGlyphs" transform="translate(668 522.5) rotate(-45)" x="0" y="4">40</text>
<text y="526.2" font-size="11.5" fill="#4b0082"><tspan x="665.8" textLength="8.2" lengthAdjust="spacingAndGlyphs">Q</tspan><tspan x="673.6" textLength="34.7" lengthAdjust="spacing">(g/kg)</tspan></text>
<g stroke="#fff" stroke-width="0.4">
<text y="116.7" font-size="20" fill="#ff0000"><tspan x="117.1" textLength="72.6" lengthAdjust="spacingAndGlyphs">Ambient</tspan> <tspan x="200" textLength="19.5" lengthAdjust="spacingAndGlyphs">Air</tspan> <tspan x="233.3" textLength="47.2" lengthAdjust="spacingAndGlyphs">Temp</tspan></text>
</g>
<g stroke="#fff" stroke-width="0.4">
<text y="138.3" font-size="20" fill="#0000ff"><tspan x="117.9" textLength="32.7" lengthAdjust="spacingAndGlyphs">Dew</tspan> <tspan x="165" textLength="43" lengthAdjust="spacingAndGlyphs">Point</tspan> <tspan x="219.5" textLength="47.2" lengthAdjust="spacingAndGlyphs">Temp</tspan></text>
</g>
<g stroke="#fff" stroke-width="0.4">
<text y="160.4" font-size="20" fill="#4b0082"><tspan x="117.2" textLength="19.6" lengthAdjust="spacingAndGlyphs">Air</tspan> <tspan x="151.7" textLength="54" lengthAdjust="spacingAndGlyphs">Parcel</tspan> <tspan x="217.2" textLength="47.2" lengthAdjust="spacingAndGlyphs">Temp</tspan></text>
</g>
<text y="84.9" font-size="14.6" fill="#000"><tspan x="700.9" textLength="44.5" lengthAdjust="spacingAndGlyphs">TP:100</tspan></text>
<text y="100.6" font-size="14.6" fill="#000"><tspan x="700.5" textLength="50.8" lengthAdjust="spacingAndGlyphs">MW:N/A</tspan></text>
<text y="116.3" font-size="14.6" fill="#000"><tspan x="700.5" textLength="52" lengthAdjust="spacingAndGlyphs">FRZ:609</tspan></text>
<text y="132" font-size="14.6" fill="#000"><tspan x="699.5" textLength="56.8" lengthAdjust="spacingAndGlyphs">WB0:673</tspan></text>
<text y="147.7" font-size="14.6" fill="#000"><tspan x="699.5" textLength="60" lengthAdjust="spacingAndGlyphs">PW:26.78</tspan></text>
<text y="163.4" font-size="14.6" fill="#000"><tspan x="700.5" textLength="50.8" lengthAdjust="spacingAndGlyphs">RH:61.6</tspan></text>
<text y="179.1" font-size="14.6" fill="#000"><tspan x="699.5" textLength="64.8" lengthAdjust="spacingAndGlyphs">MAXT:27.7</tspan></text>
<text y="194.8" font-size="14.6" fill="#000"><tspan x="700.5" textLength="52.5" lengthAdjust="spacingAndGlyphs">TH:5463</tspan></text>
<text y="210.5" font-size="14.6" fill="#000"><tspan x="700.5" textLength="48.8" lengthAdjust="spacing">L57:6.0</tspan></text>
<text y="226.2" font-size="14.6" fill="#000"><tspan x="700.5" textLength="51.2" lengthAdjust="spacingAndGlyphs">LCL:978</tspan></text>
<text y="242" font-size="14.6" fill="#000"><tspan x="701.5" textLength="12.8" lengthAdjust="spacingAndGlyphs">LI:</tspan><tspan x="715" textLength="8.8" lengthAdjust="spacingAndGlyphs">-</tspan><tspan x="725.5" textLength="22" lengthAdjust="spacing">0.7</tspan></text>
<text y="257.7" font-size="14.6" fill="#000"><tspan x="701.8" textLength="36.2" lengthAdjust="spacingAndGlyphs">SI:6.0</tspan></text>
<text y="273.4" font-size="14.6" fill="#000"><tspan x="700.5" textLength="47" lengthAdjust="spacingAndGlyphs">TT:38.4</tspan></text>
<text y="289.1" font-size="14.6" fill="#000"><tspan x="701.5" textLength="41" lengthAdjust="spacingAndGlyphs">KI:292</tspan></text>
<text y="304.8" font-size="14.6" fill="#000"><tspan x="700.5" textLength="48.8" lengthAdjust="spacingAndGlyphs">SW:N/A</tspan></text>
<text y="320.5" font-size="14.6" fill="#000"><tspan x="702.5" textLength="35" lengthAdjust="spacingAndGlyphs">EI:0.2</tspan></text>
<text y="336.2" font-size="14.6" fill="#000"><tspan x="699.2" textLength="8.8" lengthAdjust="spacingAndGlyphs">-</tspan><tspan x="709.6" textLength="49.4" lengthAdjust="spacingAndGlyphs">PARCEL</tspan><tspan x="760" textLength="8" lengthAdjust="spacingAndGlyphs">-</tspan></text>
<text y="351.9" font-size="14.6" fill="#000"><tspan x="700" textLength="61.2" lengthAdjust="spacingAndGlyphs">CAPE:287</tspan></text>
<text y="367.6" font-size="14.6" fill="#000"><tspan x="700.5" textLength="50.8" lengthAdjust="spacingAndGlyphs">CINH:13</tspan></text>
<text y="383.3" font-size="14.6" fill="#000"><tspan x="700.5" textLength="51.2" lengthAdjust="spacingAndGlyphs">LCL:978</tspan></text>
<text y="399" font-size="14.6" fill="#000"><tspan x="700.5" textLength="49.5" lengthAdjust="spacingAndGlyphs">CAP:0.0</tspan></text>
<text y="414.7" font-size="14.6" fill="#000"><tspan x="700.5" textLength="52" lengthAdjust="spacingAndGlyphs">LFC:944</tspan></text>
<text y="430.4" font-size="14.6" fill="#000"><tspan x="702" textLength="42.2" lengthAdjust="spacingAndGlyphs">EL:249</tspan></text>
<text y="446.1" font-size="14.6" fill="#000"><tspan x="700.5" textLength="54" lengthAdjust="spacingAndGlyphs">MPL:183</tspan></text>
<text y="461.8" font-size="14.6" fill="#000"><tspan x="701.2" textLength="8.2" lengthAdjust="spacingAndGlyphs">-</tspan><tspan x="711" textLength="31.8" lengthAdjust="spacingAndGlyphs">WIND</tspan><tspan x="743.8" textLength="7.5" lengthAdjust="spacingAndGlyphs">-</tspan></text>
<text y="477.5" font-size="14.6" fill="#000"><tspan x="703.8" textLength="23.2" lengthAdjust="spacingAndGlyphs">NOT</tspan></text>
<text y="493.2" font-size="14.6" fill="#000"><tspan x="702" textLength="33" lengthAdjust="spacingAndGlyphs">AVAIL</tspan></text>
</svg>
</body></html>
